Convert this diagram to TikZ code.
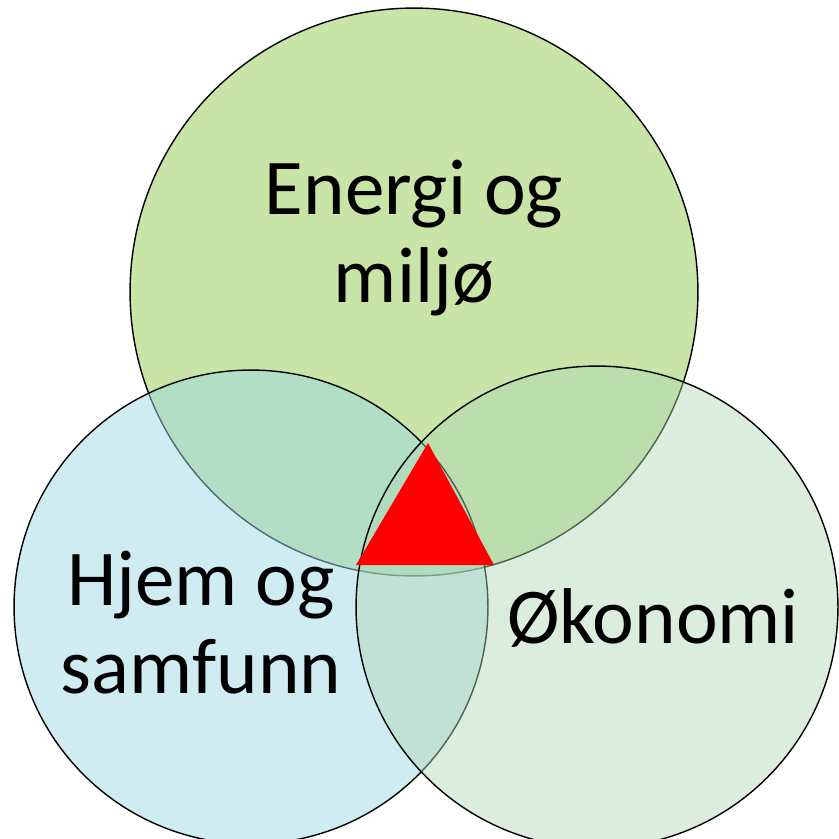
\documentclass[tikz,border=0pt]{standalone}
\usepackage{fontspec}
\setmainfont{Carlito}
\usetikzlibrary{positioning}
\definecolor{lenergi}{HTML}{91C94F}
\definecolor{lsamf}{HTML}{9FD9E5}
\definecolor{lokon}{HTML}{AFD7B4}
\definecolor{vennred}{HTML}{FF0000}
\tikzset{
  % sirkel i venndiagrammet
  venn/.style={circle, draw=black, line width=0.8pt, fill opacity=0.5,
    inner sep=0pt, outer sep=0pt},
  % stor tekst i sirklene
  vlbl/.style={font=\fontsize{45pt}{50pt}\selectfont, align=center, inner sep=0pt},
}

\begin{document}
\begin{tikzpicture}[x=0.02cm, y=-0.02cm]
  \useasboundingbox (0,0) rectangle (839,839);
  \node[venn, fill=lenergi, minimum size=11.36cm] (energi) at (414,292) {};
  \node[venn, fill=lsamf, minimum size=9.48cm] (samf) at (251,607) {};
  \node[venn, fill=lokon, fill opacity=0.45, minimum size=9.64cm] (okon) at (597,607) {};
  \fill[vennred] (428,443) -- (356,565) -- (494,565) -- cycle;
  \node[vlbl] (tenergi) at (414,238) {Energi og\\miljø};
  \node[vlbl] (tsamf) at (201,623) {Hjem og\\samfunn};
  \node[vlbl, anchor=base] (tokon) at (653,643) {Økonomi};
\end{tikzpicture}
\end{document}
